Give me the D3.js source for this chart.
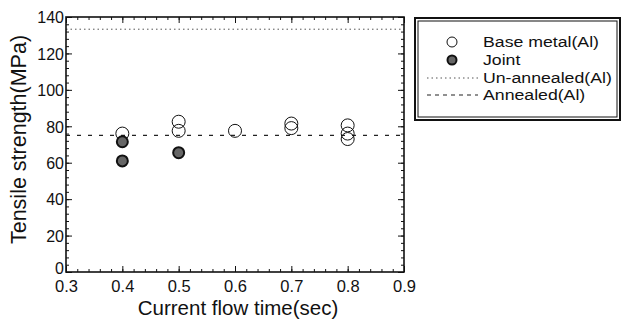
<!DOCTYPE html>
<html>
<head>
<meta charset="utf-8">
<script src="https://cdn.jsdelivr.net/npm/d3@7"></script>
<style>
body { margin: 0; background: #fff; }
svg text { font-family: "Liberation Sans", Arial, sans-serif; fill: #111; }
</style>
</head>
<body>
<div id="chart"></div>
<script>
// data
var baseTime = [0.4, 0.5, 0.5, 0.6, 0.7, 0.7, 0.8, 0.8, 0.8]
var baseStrength = [76, 82.5, 77.5, 77.5, 81.5, 79, 80.5, 76, 73]
var jointTime = [0.4, 0.4, 0.5]
var jointStrength = [71.5, 61, 65.5]
var unannealed = 133.3
var annealed = 75
var xTicks = [0.3, 0.4, 0.5, 0.6, 0.7, 0.8, 0.9]
var yTicks = [0, 20, 40, 60, 80, 100, 120, 140]
var legendLabels = ["Base metal(Al)", "Joint", "Un-annealed(Al)", "Annealed(Al)"]

var W = 623, H = 322
var margin = {top: 17, right: 219, bottom: 50, left: 66},
width = W - margin.left - margin.right,
height = H - margin.top - margin.bottom;

var svg = d3.select("#chart").append("svg")
    .attr("width", W)
    .attr("height", H)

var g = svg.append("g")
    .attr("transform", "translate(" + margin.left + "," + margin.top + ")")

var x = d3.scaleLinear().domain([0.3, 0.9]).range([0, width])
var y = d3.scaleLinear().domain([0, 140]).range([height, 0])

// minor ticks
var xMinor = d3.range(0, 31).map(function(i) { return 0.3 + i * 0.02 })
var yMinor = d3.range(0, 36).map(function(i) { return i * 4 })

function tickAxes(axisFn, scale, values, size, tf) {
    var a = g.append("g")
        .attr("transform", tf)
        .call(axisFn(scale).tickValues(values).tickSize(size).tickFormat(""))
    a.select(".domain").remove()
    a.selectAll("line").attr("stroke", "#111").attr("stroke-width", 1)
    return a
}

// bottom / top / left / right — ticks point inward
tickAxes(d3.axisTop, x, xMinor, 3, "translate(0," + height + ")")
tickAxes(d3.axisTop, x, xTicks, 6, "translate(0," + height + ")")
tickAxes(d3.axisBottom, x, xMinor, 3, "translate(0,0)")
tickAxes(d3.axisBottom, x, xTicks, 6, "translate(0,0)")
tickAxes(d3.axisRight, y, yMinor, 3, "translate(0,0)")
tickAxes(d3.axisRight, y, yTicks, 6, "translate(0,0)")
tickAxes(d3.axisLeft, y, yMinor, 3, "translate(" + width + ",0)")
tickAxes(d3.axisLeft, y, yTicks, 6, "translate(" + width + ",0)")

// tick labels
var xl = g.append("g")
    .attr("transform", "translate(0," + height + ")")
    .call(d3.axisBottom(x).tickValues(xTicks).tickSize(0).tickPadding(8).tickFormat(d3.format(".1f")))
xl.select(".domain").remove()
xl.selectAll("text").style("font-size", "16.5px")

var yl = g.append("g")
    .call(d3.axisLeft(y).tickValues(yTicks).tickSize(0).tickPadding(2).tickFormat(d3.format("d")))
yl.select(".domain").remove()
yl.selectAll("text").style("font-size", "16px")
    .attr("dy", function(d) { return d == 0 ? "0.1em" : "0.36em" })

// reference lines
g.append("line")
    .attr("x1", 0).attr("x2", width)
    .attr("y1", y(unannealed)).attr("y2", y(unannealed))
    .attr("stroke", "#555").attr("stroke-width", 1)
    .attr("stroke-dasharray", "1.5,3")

g.append("line")
    .attr("x1", 0).attr("x2", width)
    .attr("y1", y(annealed)).attr("y2", y(annealed))
    .attr("stroke", "#222").attr("stroke-width", 1.2)
    .attr("stroke-dasharray", "4,7")

// frame
g.append("rect")
    .attr("width", width).attr("height", height)
    .attr("fill", "none").attr("stroke", "#111").attr("stroke-width", 1.6)

// points
g.selectAll(".base")
    .data(baseTime)
    .enter().append("circle")
    .attr("class", "base")
    .attr("cx", function(d) { return x(d) })
    .attr("cy", function(d, i) { return y(baseStrength[i]) })
    .attr("r", 6.5)
    .attr("fill", "none")
    .attr("stroke", "#111")
    .attr("stroke-width", 1)

g.selectAll(".joint")
    .data(jointTime)
    .enter().append("circle")
    .attr("class", "joint")
    .attr("cx", function(d) { return x(d) })
    .attr("cy", function(d, i) { return y(jointStrength[i]) })
    .attr("r", 5.5)
    .attr("fill", "#666")
    .attr("stroke", "#111")
    .attr("stroke-width", 2)

// axis titles
svg.append("text")
    .attr("x", margin.left + width / 2 + 3)
    .attr("y", 315)
    .attr("text-anchor", "middle")
    .style("font-size", "20.5px")
    .text("Current flow time(sec)")

svg.append("text")
    .attr("transform", "translate(26," + (margin.top + height / 2 - 5) + ") rotate(-90)")
    .attr("text-anchor", "middle")
    .style("font-size", "21.5px")
    .text("Tensile strength(MPa)")

// legend
var lg = svg.append("g").attr("transform", "translate(415,18)")
lg.append("rect")
    .attr("width", 205).attr("height", 102)
    .attr("fill", "#fff").attr("stroke", "#111").attr("stroke-width", 2)
lg.append("rect")
    .attr("x", 3).attr("y", 3)
    .attr("width", 199).attr("height", 96)
    .attr("fill", "none").attr("stroke", "#111").attr("stroke-width", 1)

var rowY = [24, 42, 60, 77]
var items = lg.selectAll(".item")
    .data(legendLabels)
    .enter().append("g")
    .attr("class", "item")
    .attr("transform", function(d, i) { return "translate(0," + rowY[i] + ")" })

// the original lettering is wide and short, so stretch it sideways
items.append("text")
    .attr("transform", "translate(68,0) scale(1.18,1)")
    .attr("dy", "0.36em")
    .style("font-size", "15px")
    .text(function(d) { return d })

items.filter(function(d, i) { return i == 0 }).append("circle")
    .attr("cx", 37).attr("r", 5)
    .attr("fill", "#fff").attr("stroke", "#111").attr("stroke-width", 1)
items.filter(function(d, i) { return i == 1 }).append("circle")
    .attr("cx", 37).attr("r", 4.5)
    .attr("fill", "#666").attr("stroke", "#111").attr("stroke-width", 2)
items.filter(function(d, i) { return i == 2 }).append("line")
    .attr("x1", 12).attr("x2", 63)
    .attr("stroke", "#555").attr("stroke-width", 1).attr("stroke-dasharray", "1.5,3")
items.filter(function(d, i) { return i == 3 }).append("line")
    .attr("x1", 12).attr("x2", 63)
    .attr("stroke", "#222").attr("stroke-width", 1.2).attr("stroke-dasharray", "4,4")
</script>
</body>
</html>
